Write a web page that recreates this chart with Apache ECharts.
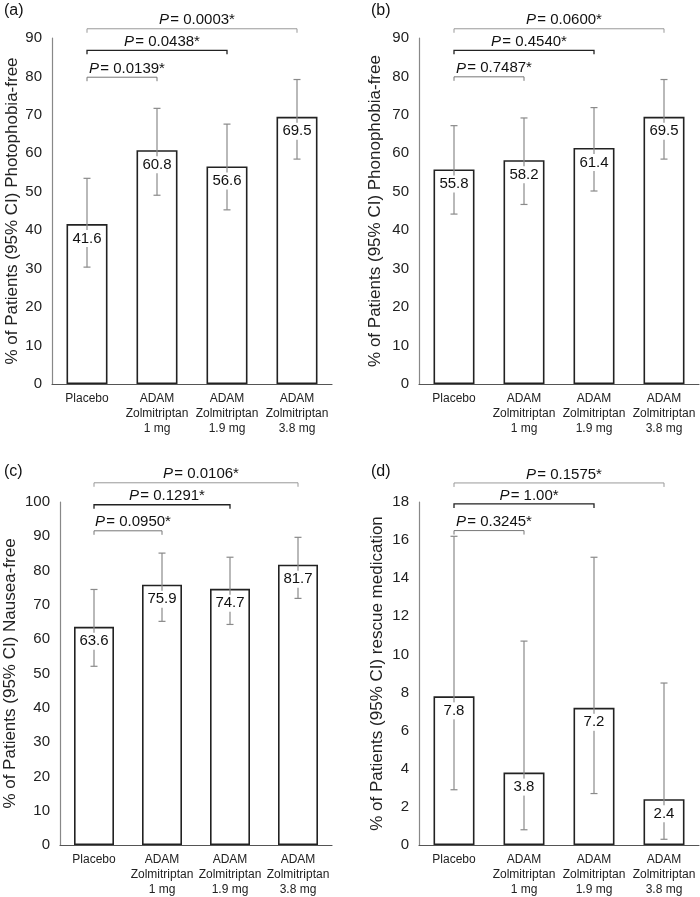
<!DOCTYPE html>
<html>
<head>
<meta charset="utf-8">
<script src="https://cdn.jsdelivr.net/npm/echarts@6/dist/echarts.min.js"></script>
<style>
	html, body { margin: 0; padding: 0; background: #fff; }
	#main { width: 700px; height: 897px; }
</style>
</head>
<body>
<div id="main"></div>
<script>
var categories = [ 'Placebo', 'ADAM\nZolmitriptan\n1 mg', 'ADAM\nZolmitriptan\n1.9 mg', 'ADAM\nZolmitriptan\n3.8 mg' ];

// (a) photophobia-free
var photoValues = [ 41.6, 60.8, 56.6, 69.5 ];
var photoLow = [ 30.4, 49.1, 45.3, 58.5 ];
var photoHigh = [ 53.5, 71.7, 67.6, 79.2 ];
var photoP = [ '0.0139*', '0.0438*', '0.0003*' ];
var photoLevels = [ 79.8, 86.8, 92.4 ];

// (b) phonophobia-free
var phonoValues = [ 55.8, 58.2, 61.4, 69.5 ];
var phonoLow = [ 44.2, 46.7, 50.2, 58.5 ];
var phonoHigh = [ 67.2, 69.2, 71.9, 79.2 ];
var phonoP = [ '0.7487*', '0.4540*', '0.0600*' ];
var phonoLevels = [ 79.9, 86.8, 92.4 ];

// (c) nausea-free
var nauseaValues = [ 63.6, 75.9, 74.7, 81.7 ];
var nauseaLow = [ 52.1, 65.2, 64.3, 71.9 ];
var nauseaHigh = [ 74.5, 85.1, 83.9, 89.7 ];
var nauseaP = [ '0.0950*', '0.1291*', '0.0106*' ];
var nauseaLevels = [ 91.6, 99.2, 105.6 ];

// (d) rescue medication
var rescueValues = [ 7.8, 3.8, 7.2, 2.4 ];
var rescueLow = [ 2.9, 0.8, 2.7, 0.3 ];
var rescueHigh = [ 16.2, 10.7, 15.1, 8.5 ];
var rescueP = [ '0.3245*', '1.00*', '0.1575*' ];
var rescueLevels = [ 16.5, 17.9, 19.0 ];

var panelNames = [ '(a)', '(b)', '(c)', '(d)' ];
var axisNames = [ '% of Patients (95% CI) Photophobia-free', '% of Patients (95% CI) Phonophobia-free', '% of Patients (95% CI) Nausea-free', '% of Patients (95% CI) rescue medication' ];
var axisMax = [ 90, 90, 100, 18 ];
var axisStep = [ 10, 10, 10, 2 ];

var FONT = '"Liberation Sans", Arial, Helvetica, sans-serif';

var panels = [
	{ values : photoValues, low : photoLow, high : photoHigh, p : photoP, levels : photoLevels },
	{ values : phonoValues, low : phonoLow, high : phonoHigh, p : phonoP, levels : phonoLevels },
	{ values : nauseaValues, low : nauseaLow, high : nauseaHigh, p : nauseaP, levels : nauseaLevels },
	{ values : rescueValues, low : rescueLow, high : rescueHigh, p : rescueP, levels : rescueLevels }
];

var grids = [
	{ left : 52, top : 38, width : 280, height : 346 },
	{ left : 419, top : 38, width : 280, height : 346 },
	{ left : 60, top : 502, width : 272, height : 345 },
	{ left : 419, top : 502, width : 280, height : 345 }
];
var nameGaps = [ 31, 35, 41, 33 ];
var titlePos = [ [ 4, 3 ], [ 371, 3 ], [ 4, 464 ], [ 371, 464 ] ];
// bracket line colours, lowest to highest
var bracketColors = [ '#777', '#222', '#999' ];

var errorBarItem = function(panel) {
	return function(params, api) {
		var i = params.dataIndex;
		var top = api.coord([ i, panel.high[i] ]);
		var bottom = api.coord([ i, panel.low[i] ]);
		var barTop = api.coord([ i, panel.values[i] ]);
		var cap = 3.5;
		var lineStyle = { stroke : '#8a8a8a', lineWidth : 1.2 };
		return {
			type : 'group',
			children : [ {
				type : 'line',
				shape : { x1 : top[0], y1 : top[1], x2 : bottom[0], y2 : bottom[1] },
				style : lineStyle
			}, {
				type : 'line',
				shape : { x1 : top[0] - cap, y1 : top[1], x2 : top[0] + cap, y2 : top[1] },
				style : lineStyle
			}, {
				type : 'line',
				shape : { x1 : bottom[0] - cap, y1 : bottom[1], x2 : bottom[0] + cap, y2 : bottom[1] },
				style : lineStyle
			}, {
				type : 'text',
				x : barTop[0],
				y : barTop[1] + 6,
				style : {
					text : panel.values[i].toFixed(1),
					fill : '#111',
					font : '15px ' + FONT,
					align : 'center',
					verticalAlign : 'top',
					backgroundColor : '#fff',
					padding : [ 1, 3 ]
				}
			} ]
		};
	};
};

var bracketItem = function(panel) {
	return function(params, api) {
		var a = api.coord([ api.value(0), api.value(2) ]);
		var b = api.coord([ api.value(1), api.value(2) ]);
		var drop = 4;
		var dark = params.dataIndex == 1;
		return {
			type : 'group',
			children : [ {
				type : 'polyline',
				shape : { points : [ [ a[0], a[1] + drop ], [ a[0], a[1] ], [ b[0], b[1] ], [ b[0], b[1] + drop ] ] },
				style : { stroke : bracketColors[params.dataIndex], lineWidth : dark ? 1.3 : 1, fill : null }
			}, {
				type : 'text',
				x : (a[0] + b[0]) / 2 + 5,
				y : a[1] - 1,
				style : {
					text : '{i|P}\u200a= ' + panel.p[params.dataIndex],
					fill : '#111',
					font : '15px ' + FONT,
					align : 'center',
					verticalAlign : 'bottom',
					rich : {
						i : { fontStyle : 'italic', fontSize : 15, fontFamily : FONT, fill : '#111' }
					}
				}
			} ]
		};
	};
};

var title = [];
var xAxis = [];
var yAxis = [];
var series = [];

var each = function(arr, fn) {
	for (var i = 0; i < arr.length; i++) {
		fn(i, arr[i]);
	}
};

each(panels, function(k, panel) {
	title.push({
		text : panelNames[k],
		left : titlePos[k][0],
		top : titlePos[k][1],
		padding : 0,
		textStyle : { fontSize : 16, fontWeight : 'normal', color : '#111', fontFamily : FONT }
	});
	xAxis.push({
		type : 'category',
		gridIndex : k,
		data : categories,
		axisTick : { show : false },
		axisLine : { lineStyle : { color : '#555', width : 1.2 } },
		axisLabel : { interval : 0, fontSize : 12, lineHeight : 15, color : '#222', margin : 7, fontFamily : FONT }
	});
	yAxis.push({
		type : 'value',
		gridIndex : k,
		min : 0,
		max : axisMax[k],
		interval : axisStep[k],
		name : axisNames[k],
		nameLocation : 'middle',
		nameGap : nameGaps[k],
		nameTextStyle : { fontSize : 17, color : '#222', fontFamily : FONT },
		axisLine : { show : true, lineStyle : { color : '#888', width : 1.2 } },
		axisTick : { show : false },
		splitLine : { show : false },
		axisLabel : { fontSize : 15, color : '#222', margin : 10, fontFamily : FONT }
	});

	var errorData = [];
	each(panel.values, function(i) {
		errorData.push([ i, panel.low[i], panel.high[i] ]);
	});
	var bracketData = [];
	each(panel.levels, function(i, level) {
		bracketData.push([ 0, i + 1, level ]);
	});

	series.push({
		type : 'bar',
		xAxisIndex : k,
		yAxisIndex : k,
		barWidth : k == 2 ? 40 : 41,
		z : 2,
		itemStyle : { color : '#fff', borderColor : '#222', borderWidth : 1.6 },
		data : panel.values
	});
	series.push({
		type : 'custom',
		xAxisIndex : k,
		yAxisIndex : k,
		z : 3,
		clip : false,
		renderItem : errorBarItem(panel),
		encode : { x : 0, y : [ 1, 2 ] },
		data : errorData
	});
	series.push({
		type : 'custom',
		xAxisIndex : k,
		yAxisIndex : k,
		z : 3,
		clip : false,
		renderItem : bracketItem(panel),
		encode : { x : [ 0, 1 ], y : 2 },
		data : bracketData
	});
});

var chart = echarts.init(document.getElementById('main'), null, { renderer : 'canvas' });
chart.setOption({
	animation : false,
	backgroundColor : '#fff',
	title : title,
	grid : grids,
	xAxis : xAxis,
	yAxis : yAxis,
	series : series
});
</script>
</body>
</html>
